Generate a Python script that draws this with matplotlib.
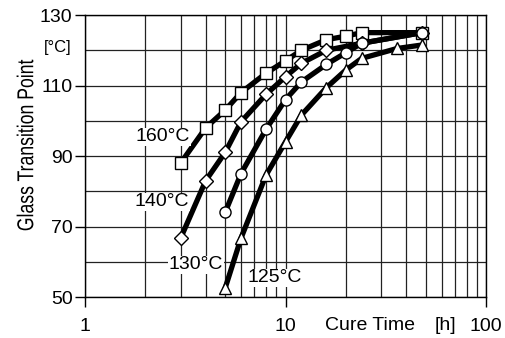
import matplotlib
matplotlib.use("Agg")
import matplotlib.pyplot as plt
from matplotlib.ticker import LogLocator, NullFormatter, FixedLocator, FuncFormatter
from matplotlib.textpath import TextPath
from matplotlib.patches import PathPatch
from matplotlib.font_manager import FontProperties
from matplotlib.transforms import Affine2D

plt.rcParams['font.family'] = ['Liberation Sans', 'DejaVu Sans']

# dados
t_160 = [3, 4, 5, 6, 8, 10, 12, 16, 20, 24, 48]
tg_160 = [88, 98, 103, 108, 113.5, 117, 120, 123, 124, 125, 125]

t_140 = [3, 4, 5, 6, 8, 10, 12, 16, 24, 48]
tg_140 = [66.7, 83, 91, 99.7, 107.5, 112.5, 116.3, 120, 122, 125]

t_130 = [5, 6, 8, 10, 12, 16, 20, 24, 48]
tg_130 = [74, 85, 97.6, 106, 111, 116, 119.3, 122, 125]

t_125 = [5, 6, 8, 10, 12, 16, 20, 24, 36, 48]
tg_125 = [52.5, 66.7, 84.6, 94, 101.6, 109.4, 114.4, 117.7, 120.5, 121.5]

series = [
    (t_160, tg_160, "s", 8, "160°C", (2.45, 95.4)),
    (t_140, tg_140, "D", 6.8, "140°C", (2.42, 77)),
    (t_130, tg_130, "o", 8, "130°C", (3.58, 59.1)),
    (t_125, tg_125, "^", 8.5, "125°C", (8.87, 55.4)),
]

fig = plt.figure(figsize=(5.05, 3.38), dpi=100)
ax = fig.add_axes([0.1683, 0.1213, 0.7941, 0.8343])

ax.set_xscale("log")
ax.set_xlim(1, 100)
ax.set_ylim(50, 130)

# GRADE
ax.xaxis.set_major_locator(LogLocator(base=10))
ax.xaxis.set_minor_locator(LogLocator(base=10, subs=range(2, 10)))
ax.xaxis.set_minor_formatter(NullFormatter())
ax.xaxis.set_major_formatter(FuncFormatter(lambda v, p: "%g" % v))
ax.yaxis.set_major_locator(FixedLocator([50, 70, 90, 110, 130]))
ax.yaxis.set_minor_locator(FixedLocator([60, 80, 100, 120]))
ax.grid(True, which="both", color="#222222", linewidth=0.9)
ax.set_axisbelow(True)

ax.tick_params(which="major", direction="out", length=7, width=1, labelsize=14, pad=8)
ax.tick_params(axis="y", which="major", pad=2)
ax.tick_params(which="minor", length=0)
for s in ax.spines.values():
    s.set_linewidth(1)

# CURVAS
for x, y, m, ms, nome, pos in series:
    ax.plot(x, y, color="black", linewidth=3.8, solid_capstyle="round", zorder=3)
    ax.plot(x, y, linestyle="none", marker=m, markersize=ms,
            markerfacecolor="white", markeredgecolor="black", markeredgewidth=1, zorder=4)
    ax.text(pos[0], pos[1], nome, fontsize=14, ha="center", va="center", zorder=5,
            bbox=dict(facecolor="white", edgecolor="none", pad=0.5))

# titulo do eixo y, fonte estreita (comprimida na horizontal)
tp = TextPath((0, 0), "Glass Transition Point", size=16.5,
              prop=FontProperties(family="Liberation Sans"))
ext = tp.get_extents()
cx = (ext.x0 + ext.x1) / 2
cy = (ext.y0 + ext.y1) / 2
trans = (Affine2D().translate(-cx, -cy).scale(0.77 / 72, 1 / 72)
         .rotate_deg(90).translate(0.25, 1.93) + fig.dpi_scale_trans)
fig.patches.append(PathPatch(tp, transform=trans, facecolor="black",
                             edgecolor="none", figure=fig))

fig.text(0.115, 0.858, "[°C]", fontsize=12, ha="center", va="center")
fig.text(0.733, 0.038, "Cure Time", fontsize=14, ha="center", va="center")
fig.text(0.883, 0.038, "[h]", fontsize=14, ha="center", va="center")

fig.savefig("out.png", dpi=100)
